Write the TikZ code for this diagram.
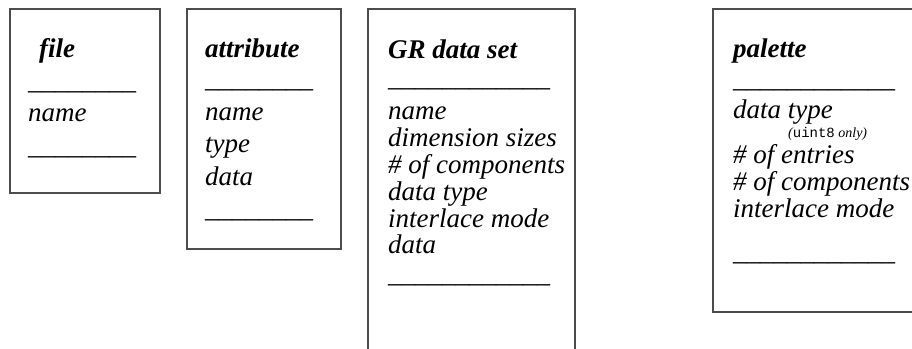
\documentclass[tikz,border=0pt]{standalone}
\usepackage{fontspec}
\setmainfont{Liberation Serif}
\setmonofont{Liberation Mono}
\newcommand{\rulechars}[1]{\foreach \i in {1,...,#1}{\_}}
\begin{document}
\begin{tikzpicture}[x=1pt,y=-1pt,
  boxline/.style={draw=black!70,line width=1.3pt},
  txt/.style={anchor=base west,inner sep=0pt,font=\fontsize{27}{27}\selectfont\itshape},
  ttl/.style={anchor=base west,inner sep=0pt,font=\fontsize{27}{27}\selectfont\bfseries\itshape},
  small/.style={anchor=base west,inner sep=0pt,font=\fontsize{14}{14}\selectfont\itshape}]
\useasboundingbox (0,0) rectangle (912,348);
\clip (0,0) rectangle (912,348);
% file
\draw[boxline] (10,9) rectangle (160,193);
\node[ttl] (fileT) at (39,57) {file};
\node[txt] (fileL1) at (28,89) {\_\_\_\_\_\_\_\_};
\node[txt] (fileN) at (28,121.5) {name};
\node[txt] (fileL2) at (28,154) {\_\_\_\_\_\_\_\_};
% attribute
\draw[boxline] (187,9) rectangle (341,249);
\node[ttl] (attT) at (205,57) {attribute};
\node[txt] (attL1) at (205,87) {\_\_\_\_\_\_\_\_};
\node[txt] (attN) at (205,120.5) {name};
\node[txt] (attTy) at (205,152) {type};
\node[txt] (attD) at (205,185) {data};
\node[txt] (attL2) at (205,217) {\_\_\_\_\_\_\_\_};
% GR data set
\draw[boxline] (368,9) rectangle (575,370);
\node[ttl] (grT) at (388,58) {GR data set};
\node[txt] (grL1) at (388,86) {\_\_\_\_\_\_\_\_\_\_\_\_};
\node[txt] (grN) at (388,119) {name};
\node[txt] (grDim) at (388,146) {dimension sizes};
\node[txt] (grComp) at (388,173) {\# of components};
\node[txt] (grDT) at (388,200) {data type};
\node[txt] (grIM) at (388,227) {interlace mode};
\node[txt] (grD) at (388,253) {data};
\node[txt] (grL2) at (388,282) {\_\_\_\_\_\_\_\_\_\_\_\_};
% palette
\draw[boxline] (713,9) rectangle (940,312);
\node[ttl] (palT) at (733,57) {palette};
\node[txt] (palL1) at (733,87) {\_\_\_\_\_\_\_\_\_\_\_\_};
\node[txt] (palDT) at (733,118) {data type};
\node[small] (palU) at (788,137) {(\upshape\ttfamily uint8\itshape\rmfamily{} only)};
\node[txt] (palE) at (733,163) {\# of entries};
\node[txt] (palC) at (733,190) {\# of components};
\node[txt] (palIM) at (733,217) {interlace mode};
\node[txt] (palL2) at (733,260) {\_\_\_\_\_\_\_\_\_\_\_\_};
\end{tikzpicture}
\end{document}
